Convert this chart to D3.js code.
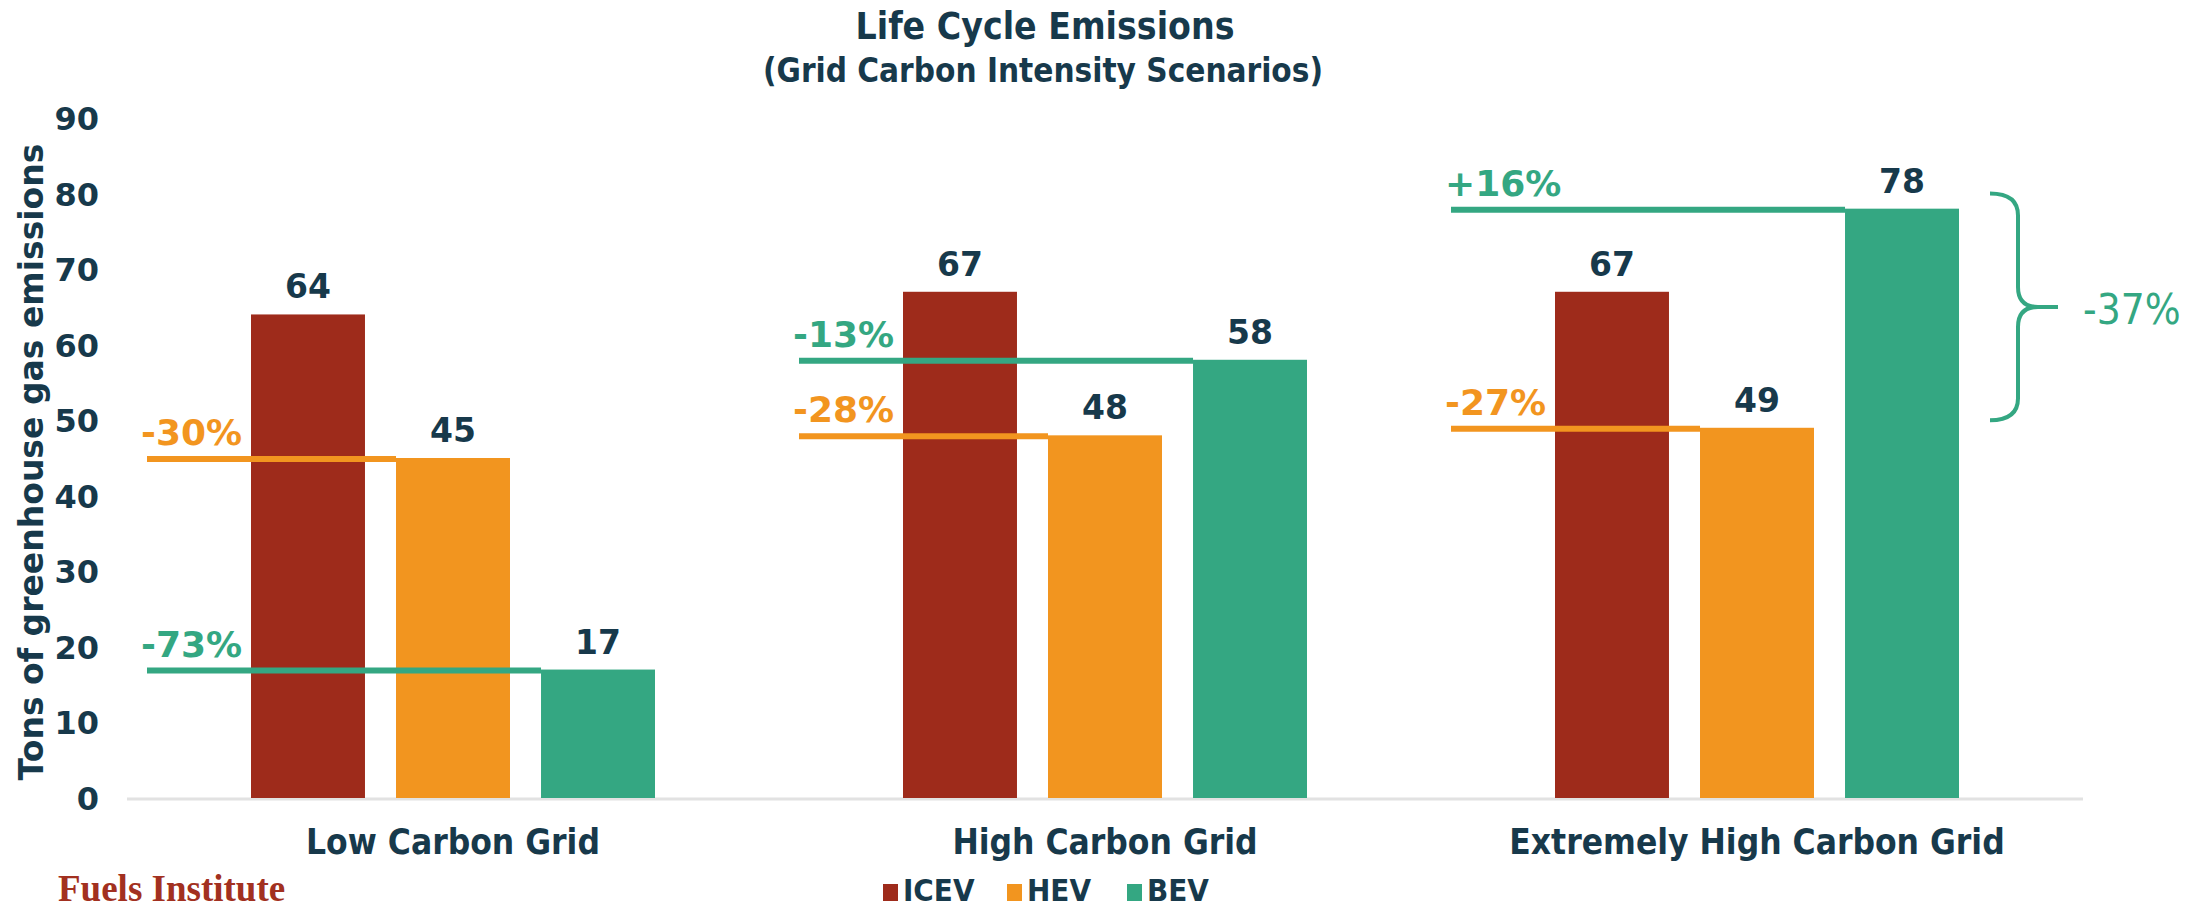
<!DOCTYPE html>
<html>
<head>
<meta charset="utf-8">
<script src="https://cdn.jsdelivr.net/npm/d3@7"></script>
<style>
  body { margin: 0; background: #fff; }
  svg { display: block; }
  .cond { font-family: 'DejaVu Sans Condensed', 'Liberation Sans Narrow', 'DejaVu Sans', sans-serif; font-stretch: condensed; font-weight: bold; }
  .num { font-family: 'DejaVu Sans', sans-serif; font-weight: bold; }
</style>
</head>
<body>
<div class="container"></div>
<script>
// data
const groups = ["Low Carbon Grid", "High Carbon Grid", "Extremely High Carbon Grid"];
const series = ["ICEV", "HEV", "BEV"];
const icev = [64, 67, 67];
const hev = [45, 48, 49];
const bev = [17, 58, 78];
const hevChange = ["-30%", "-28%", "-27%"];
const bevChange = ["-73%", "-13%", "+16%"];
const yTicks = [0, 10, 20, 30, 40, 50, 60, 70, 80, 90];
const braceSpan = [80, 50];
const braceText = "-37%";

const W = 2208, H = 910;
const navy = "#17394b";
const color = d3.scaleOrdinal().domain(series).range(["#9e2b1b", "#f2951f", "#34a782"]);

const svg = d3.select(".container").append("svg").attr("width", W).attr("height", H);

const x0 = d3.scaleBand().domain(groups).range([127, 2083]);
const x1 = d3.scaleBand().domain(series).range([124, 528]).paddingInner(0.214);
const y = d3.scaleLinear().domain([0, 90]).range([798, 118]);

const rows = groups.map((g, i) => ({ group: g, ICEV: icev[i], HEV: hev[i], BEV: bev[i], hevc: hevChange[i], bevc: bevChange[i] }));

// Title
svg.append("text").attr("class", "cond").attr("x", 1045).attr("y", 39).attr("text-anchor", "middle")
  .style("font-size", "37px").attr("fill", navy).text("Life Cycle Emissions");
svg.append("text").attr("class", "cond").attr("x", 1043).attr("y", 82).attr("text-anchor", "middle")
  .style("font-size", "33px").attr("fill", navy).text("(Grid Carbon Intensity Scenarios)");

// Y axis (labels only)
const yAxis = d3.axisLeft(y).tickValues(yTicks).tickSize(0).tickPadding(0);
const yg = svg.append("g").attr("transform", "translate(99,0)").call(yAxis);
yg.select(".domain").remove();
yg.selectAll("text").attr("class", "num").style("font-size", "32px").attr("fill", navy).attr("dy", "0.36em");

svg.append("text").attr("class", "num").attr("transform", "translate(43,462) rotate(-90)")
  .attr("text-anchor", "middle").style("font-size", "33px").attr("fill", navy)
  .text("Tons of greenhouse gas emissions");

// baseline
svg.append("line").attr("x1", 127).attr("x2", 2083).attr("y1", y(0) + 1).attr("y2", y(0) + 1)
  .attr("stroke", "#e2e2e2").attr("stroke-width", 3);

// bars
const gg = svg.selectAll(".grp").data(rows).enter().append("g").attr("class", "grp")
  .attr("transform", d => "translate(" + x0(d.group) + ",0)");

gg.selectAll("rect").data(d => series.map(s => ({ key: s, value: d[s] }))).enter().append("rect")
  .attr("x", d => x1(d.key)).attr("width", x1.bandwidth())
  .attr("y", d => y(d.value)).attr("height", d => y(0) - y(d.value))
  .attr("fill", d => color(d.key));

gg.selectAll(".val").data(d => series.map(s => ({ key: s, value: d[s] }))).enter().append("text")
  .attr("class", "num").attr("x", d => x1(d.key) + x1.bandwidth() / 2).attr("y", d => y(d.value) - 16)
  .attr("text-anchor", "middle").style("font-size", "33px").attr("fill", navy).text(d => d.value);

// comparison lines
const lineStart = x1("ICEV") - 104;
[["HEV", "hevc"], ["BEV", "bevc"]].forEach(([s, lab]) => {
  gg.append("line").attr("x1", lineStart).attr("x2", x1(s))
    .attr("y1", d => y(d[s]) + 1).attr("y2", d => y(d[s]) + 1)
    .attr("stroke", color(s)).attr("stroke-width", 6);
  gg.append("text").attr("class", "num").attr("x", lineStart - 6).attr("y", d => y(d[s]) - 13)
    .style("font-size", "36px").attr("fill", color(s)).text(d => d[lab]);
});

// brace
const bTop = y(braceSpan[0]), bBot = y(braceSpan[1]), bMid = (bTop + bBot) / 2;
const bx0 = 1990, bxs = 2018, bxt = 2058;
const p = d3.path();
p.moveTo(bx0, bTop);
p.quadraticCurveTo(bxs, bTop, bxs, bTop + 22);
p.lineTo(bxs, bMid - 20);
p.quadraticCurveTo(bxs, bMid, bxs + 20, bMid);
p.lineTo(bxt, bMid);
p.moveTo(bxs + 20, bMid);
p.quadraticCurveTo(bxs, bMid, bxs, bMid + 20);
p.lineTo(bxs, bBot - 22);
p.quadraticCurveTo(bxs, bBot, bx0, bBot);
svg.append("path").attr("d", p.toString()).attr("fill", "none")
  .attr("stroke", color("BEV")).attr("stroke-width", 4);
svg.append("text").attr("x", 2083).attr("y", bMid + 17)
  .style("font-family", "'DejaVu Sans Condensed', 'DejaVu Sans', sans-serif").style("font-stretch", "condensed")
  .style("font-size", "42px").attr("fill", color("BEV")).text(braceText);

// category labels
svg.selectAll(".cat").data(groups).enter().append("text").attr("class", "cond")
  .attr("x", d => x0(d) + x0.bandwidth() / 2).attr("y", 854).attr("text-anchor", "middle")
  .style("font-size", "35px").attr("fill", navy).text(d => d);

// legend
const legend = svg.selectAll(".leg").data(series).enter().append("g")
  .attr("transform", (d, i) => "translate(" + [883, 1007, 1127][i] + ",0)");
legend.append("rect").attr("y", 884).attr("width", 15).attr("height", 17).attr("fill", d => color(d));
legend.append("text").attr("class", "cond").attr("x", 20).attr("y", 901)
  .style("font-size", "31px").attr("fill", navy).text(d => d);

// brand
svg.append("text").attr("x", 58).attr("y", 901)
  .style("font-family", "'Liberation Serif', 'DejaVu Serif', serif").style("font-weight", "bold")
  .style("font-size", "37px").attr("fill", "#a23020").text("Fuels Institute");
</script>
</body>
</html>
